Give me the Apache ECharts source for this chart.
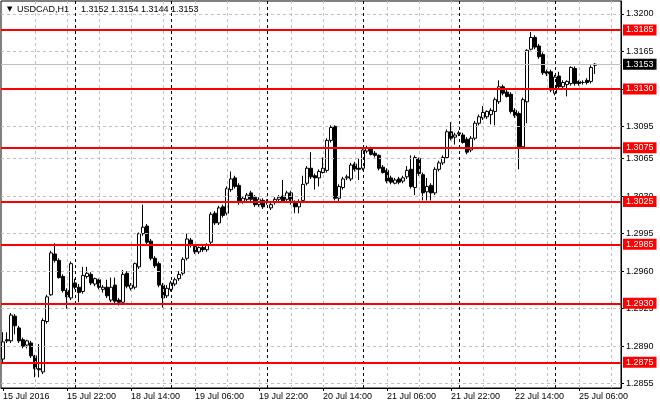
<!DOCTYPE html>
<html>
<head>
<meta charset="utf-8">
<title>USDCAD H1</title>
<script src="https://cdn.jsdelivr.net/npm/echarts@6/dist/echarts.min.js"></script>
<style>
    html, body { margin: 0; padding: 0; background: #fff; }
    #chart { width: 660px; height: 410px; }
</style>
</head>
<body>
<div id="chart"></div>
<script>
var symbolName = 'USDCAD,H1';
var tradingDays = ['15 Jul', '18 Jul', '19 Jul', '20 Jul', '21 Jul', '22 Jul', '25 Jul'];
var firstHour = 6;   // first visible bar on 15 Jul
var lastHour = 16;   // 25 Jul runs on past the last bar (empty shift on the right)
var yearLabel = '15 Jul 2016';

// hourly bars, 15 Jul 06:00 .. 25 Jul 10:00
var opens = [
    1.2878, 1.2896, 1.2895, 1.2918, 1.2907, 1.2896, 1.2891, 1.2893, 1.2881, 1.2869,
    1.2866, 1.2913, 1.2938, 1.2976, 1.2970, 1.2955, 1.2942, 1.2935, 1.2949, 1.2945,
    1.2941, 1.2955, 1.2957, 1.2948, 1.2952, 1.2943, 1.2945, 1.2933, 1.2947, 1.2933,
    1.2931, 1.2958, 1.2944, 1.2945, 1.2964, 1.2995, 1.3002, 1.2988, 1.2972, 1.2967,
    1.2947, 1.2937, 1.2943, 1.2948, 1.2953, 1.2958, 1.2972, 1.2989, 1.2983, 1.2978,
    1.2982, 1.2980, 1.2987, 1.3014, 1.3005, 1.3020, 1.3014, 1.3036, 1.3047, 1.3040,
    1.3025, 1.3027, 1.3033, 1.3029, 1.3022, 1.3026, 1.3025, 1.3019, 1.3024, 1.3027,
    1.3030, 1.3027, 1.3033, 1.3025, 1.3020, 1.3026, 1.3042, 1.3056, 1.3049, 1.3047,
    1.3052, 1.3054, 1.3082, 1.3095, 1.3028, 1.3038, 1.3047, 1.3046, 1.3060, 1.3056,
    1.3056, 1.3072, 1.3074, 1.3070, 1.3068, 1.3057, 1.3054, 1.3047, 1.3042, 1.3046,
    1.3044, 1.3048, 1.3055, 1.3038, 1.3065, 1.3050, 1.3034, 1.3040, 1.3033, 1.3055,
    1.3061, 1.3066, 1.3090, 1.3085, 1.3088, 1.3087, 1.3083, 1.3073, 1.3084, 1.3098,
    1.3103, 1.3104, 1.3106, 1.3109, 1.3118, 1.3132, 1.3127, 1.3125, 1.3110, 1.3107,
    1.3076, 1.3118, 1.3167, 1.3178, 1.3170, 1.3162, 1.3146, 1.3146, 1.3126, 1.3142,
    1.3132, 1.3134, 1.3135, 1.3149, 1.3137, 1.3136, 1.3138, 1.3137, 1.3152
];
var highs = [
    1.2903, 1.2903, 1.2921, 1.2920, 1.2909, 1.2898, 1.2896, 1.2895, 1.2882, 1.2892,
    1.2916, 1.2938, 1.2979, 1.2986, 1.2972, 1.2957, 1.2944, 1.2969, 1.2953, 1.2948,
    1.2964, 1.2964, 1.2959, 1.2954, 1.2953, 1.2947, 1.2952, 1.2954, 1.2954, 1.2935,
    1.2961, 1.2960, 1.2949, 1.2968, 1.2996, 1.3022, 1.3004, 1.2990, 1.2974, 1.2969,
    1.2949, 1.2947, 1.2951, 1.2954, 1.2960, 1.2973, 1.2995, 1.2991, 1.2985, 1.2983,
    1.2984, 1.2986, 1.3015, 1.3016, 1.3021, 1.3022, 1.3039, 1.3053, 1.3049, 1.3042,
    1.3030, 1.3033, 1.3035, 1.3031, 1.3029, 1.3028, 1.3027, 1.3024, 1.3029, 1.3031,
    1.3045, 1.3035, 1.3035, 1.3026, 1.3027, 1.3049, 1.3058, 1.3071, 1.3051, 1.3055,
    1.3066, 1.3084, 1.3096, 1.3096, 1.3041, 1.3048, 1.3050, 1.3061, 1.3062, 1.3065,
    1.3075, 1.3077, 1.3076, 1.3072, 1.3069, 1.3059, 1.3056, 1.3049, 1.3047, 1.3048,
    1.3049, 1.3058, 1.3068, 1.3068, 1.3066, 1.3052, 1.3047, 1.3042, 1.3057, 1.3063,
    1.3068, 1.3092, 1.3099, 1.3089, 1.3091, 1.3089, 1.3085, 1.3086, 1.3100, 1.3106,
    1.3114, 1.3110, 1.3112, 1.3122, 1.3138, 1.3134, 1.3129, 1.3127, 1.3112, 1.3109,
    1.3122, 1.3167, 1.3183, 1.3180, 1.3172, 1.3164, 1.3148, 1.3148, 1.3143, 1.3146,
    1.3138, 1.3138, 1.3151, 1.3151, 1.3138, 1.3138, 1.3140, 1.3152, 1.3154
];
var lows = [
    1.2875, 1.2893, 1.2893, 1.2901, 1.2893, 1.2888, 1.2888, 1.2879, 1.2861, 1.2861,
    1.2864, 1.2911, 1.2937, 1.2968, 1.2953, 1.2940, 1.2925, 1.2933, 1.2943, 1.2931,
    1.2939, 1.2953, 1.2947, 1.2946, 1.2943, 1.2940, 1.2935, 1.2931, 1.2930, 1.2928,
    1.2929, 1.2944, 1.2942, 1.2943, 1.2962, 1.2993, 1.2985, 1.2970, 1.2963, 1.2945,
    1.2926, 1.2935, 1.2941, 1.2946, 1.2951, 1.2956, 1.2970, 1.2982, 1.2976, 1.2976,
    1.2978, 1.2978, 1.2985, 1.3003, 1.3003, 1.3010, 1.3012, 1.3034, 1.3037, 1.3022,
    1.3023, 1.3025, 1.3025, 1.3020, 1.3020, 1.3018, 1.3022, 1.3017, 1.3022, 1.3025,
    1.3024, 1.3025, 1.3022, 1.3014, 1.3014, 1.3024, 1.3040, 1.3046, 1.3036, 1.3039,
    1.3051, 1.3052, 1.3080, 1.3026, 1.3025, 1.3036, 1.3045, 1.3044, 1.3053, 1.3045,
    1.3054, 1.3070, 1.3068, 1.3066, 1.3054, 1.3051, 1.3042, 1.3041, 1.3041, 1.3041,
    1.3042, 1.3046, 1.3037, 1.3031, 1.3049, 1.3026, 1.3026, 1.3026, 1.3031, 1.3053,
    1.3059, 1.3065, 1.3082, 1.3078, 1.3086, 1.3079, 1.3069, 1.3071, 1.3082, 1.3096,
    1.3101, 1.3102, 1.3097, 1.3096, 1.3116, 1.3124, 1.3122, 1.3107, 1.3103, 1.3055,
    1.3074, 1.3098, 1.3166, 1.3167, 1.3158, 1.3143, 1.3142, 1.3127, 1.3124, 1.3130,
    1.3130, 1.3123, 1.3133, 1.3133, 1.3133, 1.3134, 1.3134, 1.3135, 1.3144
];
var closes = [
    1.2894, 1.2895, 1.2919, 1.2909, 1.2895, 1.2890, 1.2895, 1.2881, 1.2869, 1.2868,
    1.2914, 1.2936, 1.2977, 1.2970, 1.2954, 1.2942, 1.2936, 1.2967, 1.2945, 1.2940,
    1.2956, 1.2958, 1.2949, 1.2953, 1.2945, 1.2945, 1.2937, 1.2945, 1.2932, 1.2931,
    1.2957, 1.2946, 1.2947, 1.2967, 1.2995, 1.3001, 1.2987, 1.2972, 1.2965, 1.2947,
    1.2935, 1.2944, 1.2949, 1.2952, 1.2957, 1.2971, 1.2990, 1.2984, 1.2978, 1.2982,
    1.2980, 1.2984, 1.3013, 1.3005, 1.3019, 1.3012, 1.3037, 1.3046, 1.3039, 1.3024,
    1.3028, 1.3031, 1.3027, 1.3022, 1.3027, 1.3020, 1.3024, 1.3022, 1.3027, 1.3029,
    1.3025, 1.3033, 1.3024, 1.3020, 1.3025, 1.3041, 1.3056, 1.3048, 1.3047, 1.3053,
    1.3056, 1.3082, 1.3094, 1.3028, 1.3039, 1.3046, 1.3048, 1.3059, 1.3055, 1.3055,
    1.3073, 1.3075, 1.3069, 1.3068, 1.3056, 1.3052, 1.3044, 1.3043, 1.3045, 1.3043,
    1.3047, 1.3054, 1.3039, 1.3066, 1.3051, 1.3033, 1.3039, 1.3033, 1.3055, 1.3061,
    1.3066, 1.3090, 1.3084, 1.3087, 1.3089, 1.3080, 1.3071, 1.3084, 1.3098, 1.3104,
    1.3108, 1.3109, 1.3110, 1.3120, 1.3132, 1.3126, 1.3123, 1.3109, 1.3105, 1.3076,
    1.3120, 1.3166, 1.3178, 1.3169, 1.3160, 1.3145, 1.3144, 1.3129, 1.3141, 1.3132,
    1.3136, 1.3137, 1.3150, 1.3135, 1.3135, 1.3136, 1.3136, 1.3150, 1.3153
];

var priceTicks = [1.3200, 1.3165, 1.3130, 1.3095, 1.3065, 1.3030, 1.2995, 1.2960, 1.2925, 1.2890, 1.2855];
var levels = [1.3185, 1.3130, 1.3075, 1.3025, 1.2985, 1.2930, 1.2875];
var bidPrice = 1.3153;
var daySeparators = [18, 42, 66, 90, 114, 138];

var FONT = 'Liberation Sans';

// hour categories
var times = [];
tradingDays.forEach(function(day, d){
    var from = d === 0 ? firstHour : 0;
    var to = d === tradingDays.length - 1 ? lastHour : 23;
    for (var h = from; h <= to; h++) {
        times.push(day + ' ' + (h < 10 ? '0' : '') + h + ':00');
    }
});

var candles = opens.map(function(o, i){
    return [o, closes[i], lows[i], highs[i]];
});

function showLabel(index){
    return index % 16 === 0;
}

/* grid lines sit under the candles */
var gridLines = [];
priceTicks.forEach(function(v){
    gridLines.push({yAxis: v, lineStyle: {color: '#c0c0c0', type: [3, 3], width: 1}, label: {show: false}});
});
for (var k = 8; k < times.length; k += 8) {
    gridLines.push({xAxis: k, lineStyle: {color: '#c0c0c0', type: [3, 3], width: 1}, label: {show: false}});
}
daySeparators.forEach(function(idx){
    gridLines.push({xAxis: idx, lineStyle: {color: '#000', type: [3, 3], width: 1}, label: {show: false}});
});
gridLines.push({
    yAxis: bidPrice,
    lineStyle: {color: '#c0c0c0', type: 'solid', width: 1},
    label: {
        show: true, position: 'end', distance: 2,
        formatter: function(p){ return p.value.toFixed(4); },
        color: '#fff', backgroundColor: '#000',
        fontFamily: FONT, fontSize: 9, lineHeight: 10, padding: [1, 3, 0, 3]
    }
});

var levelLines = levels.map(function(v){
    return {
        yAxis: v,
        lineStyle: {color: '#ff0000', type: 'solid', width: 2},
        label: {
            show: true, position: 'end', distance: 2,
            formatter: function(p){ return p.value.toFixed(4); },
            color: '#fff', backgroundColor: '#ff0000',
            fontFamily: FONT, fontSize: 9, lineHeight: 10, padding: [1, 3, 0, 3]
        }
    };
});

var last = opens.length - 1;
var headerValues = [opens[last], highs[last], lows[last], closes[last]].map(function(v){
    return v.toFixed(4);
}).join(' ');

var myChart = echarts.init(document.getElementById('chart'));
myChart.setOption({
    animation: false,
    backgroundColor: '#fff',
    grid: {
        left: 1,
        right: 39,
        top: 1,
        bottom: 22,
        show: true,
        borderColor: '#000',
        borderWidth: 1,
        backgroundColor: 'transparent'
    },
    graphic: [
        {type: 'text', left: 7, top: 6, z: 10, style: {text: '\u25BC', fill: '#000', font: '7px "DejaVu Sans"'}},
        {type: 'text', left: 17, top: 5, z: 10, style: {text: symbolName, fill: '#000', font: '9px "' + FONT + '"'}},
        {type: 'text', left: 81, top: 5, z: 10, style: {text: headerValues, fill: '#000', font: '9px "' + FONT + '"'}}
    ],
    xAxis: {
        type: 'category',
        data: times,
        boundaryGap: true,
        axisLine: {show: true, lineStyle: {color: '#000', width: 1}},
        axisTick: {show: true, alignWithLabel: true, length: 3, interval: showLabel, lineStyle: {color: '#000'}},
        axisLabel: {
            interval: showLabel,
            formatter: function(value, index){ return index === 0 ? yearLabel : value; },
            align: 'left',
            color: '#000',
            fontFamily: FONT,
            fontSize: 9,
            margin: 4
        },
        splitLine: {show: false}
    },
    yAxis: {
        type: 'value',
        position: 'right',
        min: 1.2851,
        max: 1.3212,
        axisLine: {show: true, lineStyle: {color: '#000', width: 1}},
        axisTick: {show: true, length: 3, customValues: priceTicks, lineStyle: {color: '#000'}},
        axisLabel: {
            customValues: priceTicks,
            formatter: function(v){ return v.toFixed(4); },
            color: '#000',
            fontFamily: FONT,
            fontSize: 9,
            margin: 5
        },
        splitLine: {show: false}
    },
    series: [
        {
            name: 'grid',
            type: 'line',
            z: 1,
            data: [],
            silent: true,
            markLine: {
                silent: true,
                precision: 4,
                symbol: ['none', 'none'],
                animation: false,
                data: gridLines
            }
        },
        {
            name: 'USDCAD',
            type: 'candlestick',
            z: 3,
            barWidth: 3,
            data: candles,
            itemStyle: {
                color: '#fff',          // 阳线实体
                color0: '#000',         // 阴线实体
                borderColor: '#000',
                borderColor0: '#000',
                borderColorDoji: '#000',
                borderWidth: 1
            }
        },
        {
            name: 'levels',
            type: 'line',
            z: 4,
            data: [],
            silent: true,
            markLine: {
                silent: true,
                precision: 4,
                symbol: ['none', 'none'],
                animation: false,
                data: levelLines
            }
        }
    ]
});
</script>
</body>
</html>
